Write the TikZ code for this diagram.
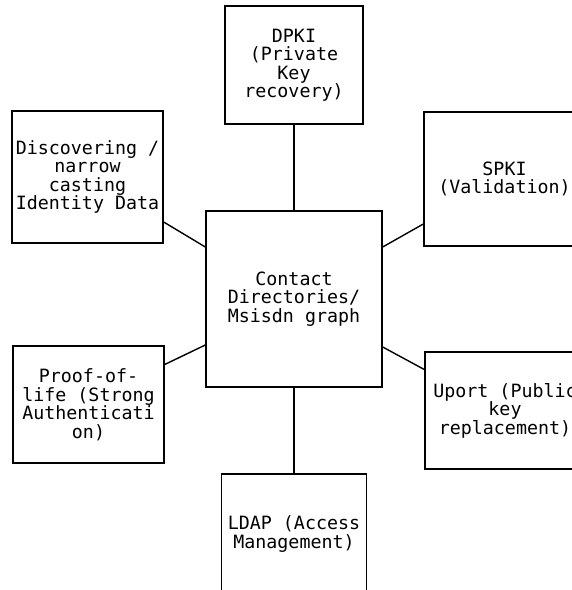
\documentclass[tikz,border=0pt]{standalone}
\usepackage{fontspec}
\setmonofont{DejaVu Sans Mono}
\usepackage{tikz}

\begin{document}
\begin{tikzpicture}[x=1pt, y=-1pt,
  box/.style={draw, line width=1.4pt, align=center, inner sep=2pt,
              font=\ttfamily\fontsize{18.3}{18.5}\selectfont},
  link/.style={line width=1.4pt}]
\useasboundingbox (0,0) rectangle (572,590);
\clip (0,0) rectangle (572,590);
\node[box, minimum width=176pt, minimum height=176pt] (ctr) at (294,299) {Contact\\Directories/\\Msisdn graph};
\node[box, minimum width=138pt, minimum height=118pt] (dpki) at (294,65) {DPKI\\(Private\\Key\\recovery)};
\node[box, minimum width=151pt, minimum height=132pt] (disc) at (87.5,177) {Discovering /\\narrow\\casting\\Identity Data};
\node[box, minimum width=161pt, minimum height=134pt] (spki) at (504.5,179) {SPKI\\(Validation)};
\node[box, minimum width=151pt, minimum height=117pt] (proof) at (88.5,404.5) {Proof-of-\\life (Strong\\Authenticati\\on)};
\node[box, minimum width=160pt, minimum height=117pt] (uport) at (505,410.5) {Uport (Public\\key\\replacement)};
\node[box, minimum width=145pt, minimum height=120pt] (ldap) at (294,534) {LDAP (Access\\Management)};
\draw[link] (dpki.south) -- (ctr.north);
\draw[link] ([yshift=-45pt]disc.east) -- ([yshift=52pt]ctr.west);
\draw[link] ([yshift=-45pt]spki.west) -- ([yshift=52pt]ctr.east);
\draw[link] ([yshift=40pt]proof.east) -- ([yshift=-46pt]ctr.west);
\draw[link] ([yshift=41pt]uport.west) -- ([yshift=-48pt]ctr.east);
\draw[link] (ctr.south) -- (ldap.north);
\end{tikzpicture}
\end{document}
